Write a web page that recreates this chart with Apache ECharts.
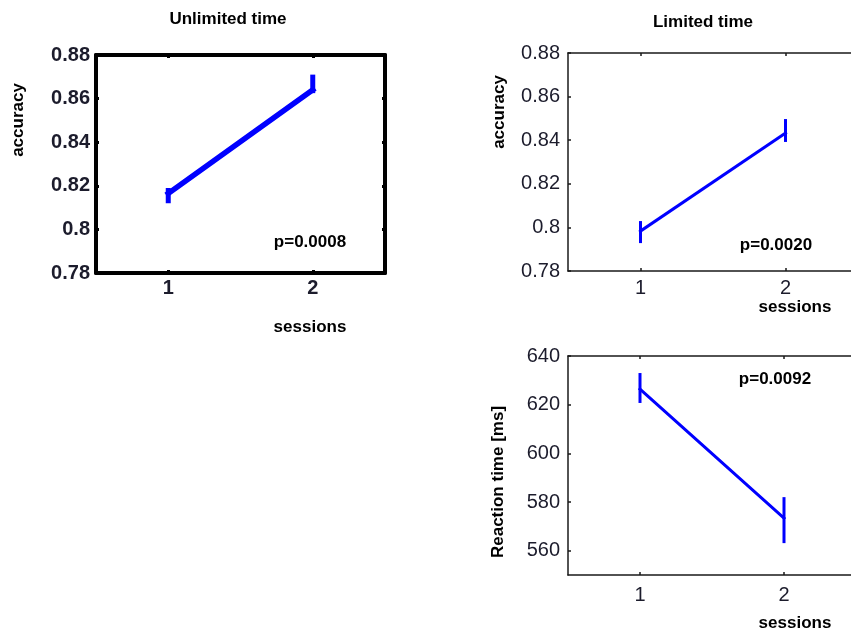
<!DOCTYPE html>
<html>
<head>
<meta charset="utf-8">
<script src="https://cdn.jsdelivr.net/npm/echarts@6/dist/echarts.min.js"></script>
<style>
  html, body { margin: 0; padding: 0; background: #fff; }
  #chart { width: 851px; height: 634px; }
</style>
</head>
<body>
<div id="chart"></div>
<script>
// Sessions and tick values
const sessions = [1, 2];
const sessionTicks = [1, 2];
const accuracyTicks = [0.78, 0.8, 0.82, 0.84, 0.86, 0.88];
const rtTicks = [560, 580, 600, 620, 640];

// Unlimited time: mean accuracy and error-bar bounds per session
const unlimitedAcc = [0.8165, 0.864];
const unlimitedAccLow = [0.812, 0.8625];
const unlimitedAccHigh = [0.819, 0.871];

// Limited time: mean accuracy and error-bar bounds
const limitedAcc = [0.7983, 0.8433];
const limitedAccLow = [0.7928, 0.8392];
const limitedAccHigh = [0.8029, 0.8497];

// Limited time: mean reaction time (ms) and error-bar bounds
const limitedRt = [626.4, 573.4];
const limitedRtLow = [620.7, 563.1];
const limitedRtHigh = [633.0, 582.0];

const pValues = ['p=0.0008', 'p=0.0020', 'p=0.0092'];

const FONT = '"Liberation Sans", Arial, sans-serif';
const BLUE = '#0000ff';
const TICK_COLOR = '#1c1c2c';

function boxStyle(thick) {
  return thick ? { color: '#000', width: 4 } : { color: '#1a1a1a', width: 1.5 };
}

function xAxesFor(grid, thick, margin) {
  const ls = boxStyle(thick);
  const common = {
    type: 'value', gridIndex: grid, min: 0.5, max: 2.5,
    splitLine: { show: false },
    axisLine: { show: true, onZero: false, lineStyle: ls },
    axisTick: { show: true, inside: true, length: 3, customValues: sessionTicks,
                lineStyle: { color: ls.color, width: thick ? 3 : 1.5 } }
  };
  return [
    Object.assign({}, common, {
      position: 'bottom',
      axisLabel: { customValues: sessionTicks, margin: margin, fontSize: 20, fontFamily: FONT,
                   color: TICK_COLOR, fontWeight: thick ? 'bold' : 'normal' }
    }),
    Object.assign({}, common, { position: 'top', axisLabel: { show: false } })
  ];
}

function yAxesFor(grid, thick, min, max, ticks, margin) {
  const ls = boxStyle(thick);
  const common = {
    type: 'value', gridIndex: grid, min: min, max: max,
    splitLine: { show: false },
    axisLine: { show: true, onZero: false, lineStyle: ls },
    axisTick: { show: true, inside: true, length: 3, customValues: ticks,
                lineStyle: { color: ls.color, width: thick ? 3 : 1.5 } }
  };
  return [
    Object.assign({}, common, {
      position: 'left',
      axisLabel: { customValues: ticks, margin: margin, fontSize: 20, fontFamily: FONT,
                   color: TICK_COLOR, fontWeight: thick ? 'bold' : 'normal' }
    }),
    Object.assign({}, common, { position: 'right', axisLabel: { show: false } })
  ];
}

function meanLine(xIdx, yIdx, values, width) {
  return {
    type: 'line', xAxisIndex: xIdx, yAxisIndex: yIdx,
    data: sessions.map((s, i) => [s, values[i]]),
    symbol: 'none', silent: true,
    lineStyle: { color: BLUE, width: width, cap: 'square' }
  };
}

function errorBars(xIdx, yIdx, low, high, width) {
  return {
    type: 'custom', xAxisIndex: xIdx, yAxisIndex: yIdx,
    data: sessions.map((s, i) => [s, low[i], high[i]]),
    encode: { x: 0, y: [1, 2] },
    silent: true,
    renderItem: function (params, api) {
      const a = api.coord([api.value(0), api.value(1)]);
      const b = api.coord([api.value(0), api.value(2)]);
      return {
        type: 'line',
        shape: { x1: a[0], y1: a[1], x2: b[0], y2: b[1] },
        style: { stroke: BLUE, lineWidth: width }
      };
    }
  };
}

function label(text, x, y, opts) {
  opts = opts || {};
  return {
    type: 'text', x: x, y: y, rotation: opts.rotation || 0, silent: true,
    style: {
      text: text, fill: '#000', textAlign: 'center', textVerticalAlign: 'middle',
      font: 'bold ' + (opts.size || 17) + 'px ' + FONT
    }
  };
}

const chart = echarts.init(document.getElementById('chart'));
chart.setOption({
  animation: false,
  backgroundColor: '#fff',
  grid: [
    { left: 96, top: 55, width: 289, height: 218, outerBoundsMode: 'none', containLabel: false },
    { left: 568, top: 53, width: 290, height: 218, outerBoundsMode: 'none', containLabel: false },
    { left: 568, top: 356, width: 288, height: 219, outerBoundsMode: 'none', containLabel: false }
  ],
  xAxis: [].concat(
    xAxesFor(0, true, 5),
    xAxesFor(1, false, 7),
    xAxesFor(2, false, 10)
  ),
  yAxis: [].concat(
    yAxesFor(0, true, 0.78, 0.88, accuracyTicks, 6),
    yAxesFor(1, false, 0.78, 0.88, accuracyTicks, 8),
    yAxesFor(2, false, 550, 640, rtTicks, 8)
  ),
  series: [
    meanLine(0, 0, unlimitedAcc, 5.5),
    errorBars(0, 0, unlimitedAccLow, unlimitedAccHigh, 5),
    meanLine(2, 2, limitedAcc, 3),
    errorBars(2, 2, limitedAccLow, limitedAccHigh, 3),
    meanLine(4, 4, limitedRt, 3),
    errorBars(4, 4, limitedRtLow, limitedRtHigh, 3)
  ],
  graphic: [
    label('Unlimited time', 228, 19),
    label('Limited time', 703, 22),
    label('accuracy', 18, 120, { rotation: Math.PI / 2 }),
    label('accuracy', 499, 112, { rotation: Math.PI / 2 }),
    label('Reaction time [ms]', 498, 482, { rotation: Math.PI / 2 }),
    label('sessions', 310, 327),
    label('sessions', 795, 307),
    label('sessions', 795, 623),
    label(pValues[0], 310, 242),
    label(pValues[1], 776, 245),
    label(pValues[2], 775, 379)
  ]
});
</script>
</body>
</html>
